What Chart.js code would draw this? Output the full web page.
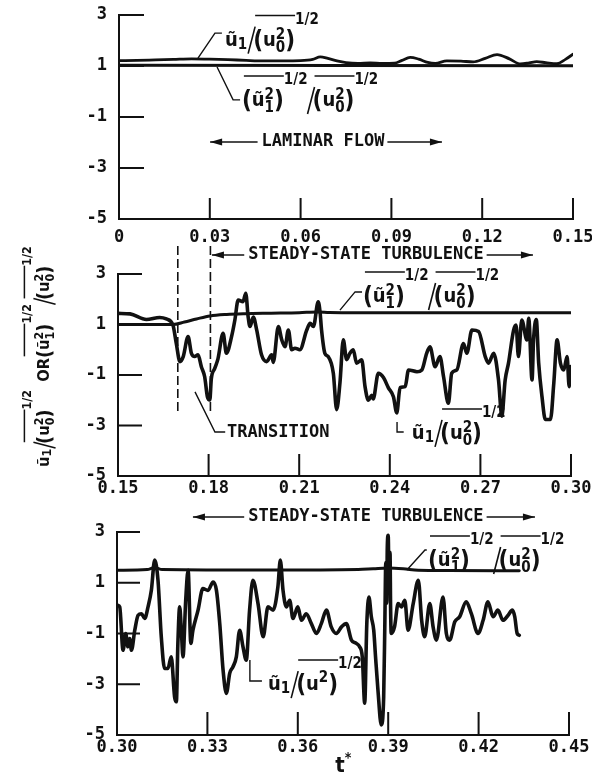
<!DOCTYPE html>
<html>
<head>
<meta charset="utf-8">
<script src="https://cdn.jsdelivr.net/npm/chart.js@4.4.1/dist/chart.umd.min.js"></script>
<style>
html, body { margin: 0; padding: 0; background: #fff; }
body { width: 592px; height: 774px; position: relative; overflow: hidden; }
canvas { position: absolute; left: 0; }
</style>
</head>
<body>
<canvas id="c1" width="592" height="250" style="top:0px"></canvas>
<canvas id="c2" width="592" height="262" style="top:240px"></canvas>
<canvas id="c3" width="592" height="274" style="top:500px"></canvas>
<script>
/* ─── axes ─── */
const Y_TICKS = [-5, -3, -1, 1, 3];
const Y_LABELS = ['-5', '-3', '-1', '1', '3'];
const X1_TICKS = [0, 0.03, 0.06, 0.09, 0.12, 0.15];
const X1_LABELS = ['0', '0.03', '0.06', '0.09', '0.12', '0.15'];
const X2_TICKS = [0.15, 0.18, 0.21, 0.24, 0.27, 0.30];
const X2_LABELS = ['0.15', '0.18', '0.21', '0.24', '0.27', '0.30'];
const X3_TICKS = [0.30, 0.33, 0.36, 0.39, 0.42, 0.45];
const X3_LABELS = ['0.30', '0.33', '0.36', '0.39', '0.42', '0.45'];

/* ─── panel 1 : laminar ─── */
const P1_U_T = [0, 0.006, 0.012, 0.018, 0.024, 0.03, 0.036, 0.042, 0.048, 0.054, 0.06, 0.064, 0.0665, 0.069, 0.072, 0.075, 0.079, 0.083, 0.087, 0.091, 0.0935, 0.0962, 0.099, 0.102, 0.1045, 0.1083, 0.113, 0.117, 0.121, 0.1249, 0.129, 0.1326, 0.1355, 0.138, 0.141, 0.1447, 0.1475, 0.15];
const P1_U_V = [1.21, 1.22, 1.24, 1.26, 1.28, 1.27, 1.25, 1.22, 1.20, 1.20, 1.21, 1.26, 1.36, 1.30, 1.20, 1.13, 1.10, 1.12, 1.10, 1.11, 1.22, 1.34, 1.27, 1.14, 1.10, 1.20, 1.19, 1.16, 1.30, 1.45, 1.28, 1.08, 1.12, 1.17, 1.13, 1.09, 1.26, 1.46];
const P1_R_T = [0, 0.15];
const P1_R_V = [1.03, 1.01];

/* ─── panel 2 : transition ─── */
const P2_U_T = [0.150, 0.154, 0.1594, 0.1638, 0.166, 0.1682, 0.1693, 0.1705, 0.1716, 0.1732, 0.1743, 0.1754, 0.1765, 0.1776, 0.1787, 0.1796, 0.1804, 0.1809, 0.182, 0.1831, 0.1848, 0.1859, 0.1876, 0.1887, 0.1898, 0.1914, 0.1923, 0.1931, 0.1937, 0.1948, 0.1959, 0.1975, 0.1992, 0.2009, 0.2014, 0.2031, 0.2042, 0.2053, 0.2064, 0.2075, 0.2086, 0.2102, 0.2125, 0.2136, 0.2147, 0.2163, 0.2169, 0.2174, 0.2185, 0.2196, 0.2213, 0.2224, 0.2235, 0.2246, 0.2257, 0.2268, 0.2279, 0.229, 0.2307, 0.2318, 0.2329, 0.234, 0.2345, 0.2362, 0.2379, 0.2395, 0.2412, 0.2423, 0.2434, 0.2451, 0.2462, 0.249, 0.2506, 0.2522, 0.2533, 0.255, 0.2566, 0.2578, 0.2594, 0.2605, 0.2622, 0.2644, 0.2655, 0.2672, 0.2694, 0.2716, 0.2727, 0.2744, 0.276, 0.2771, 0.2782, 0.2793, 0.281, 0.2818, 0.2826, 0.2837, 0.2854, 0.286, 0.2871, 0.2876, 0.2885, 0.2893, 0.2904, 0.2915, 0.2932, 0.2943, 0.2954, 0.2965, 0.2976, 0.2987, 0.2994, 0.2999];
const P2_U_V = [1.44, 1.42, 1.20, 1.28, 1.22, 0.98, 0.25, -0.47, -0.27, 0.52, -0.14, -0.27, -0.2, -0.67, -1.07, -1.86, -1.99, -1.15, -0.75, -0.36, 0.65, -0.14, 0.52, 1.18, 1.97, 1.9, 2.24, 1.3, 0.92, 1.3, 0.8, -0.19, -0.47, -0.2, -0.5, 0.92, 0.4, 0.12, 0.78, 0.0, 0.06, 0.0, 0.78, 1.05, 0.92, 1.9, 1.5, 0.78, -0.14, -0.27, -0.93, -2.37, -1.3, 0.39, -0.39, -0.14, 0.0, -0.53, -0.4, -1.46, -2.0, -1.8, -1.95, -0.93, -1.1, -1.5, -1.86, -2.5, -1.5, -1.46, -0.8, -0.87, -0.8, -0.14, 0.12, -0.67, -0.27, -1.07, -2.12, -0.93, -0.8, 0.25, -0.14, 0.78, 0.72, -0.27, -0.53, -0.14, -1.2, -2.63, -1.2, -0.53, 0.78, 0.98, -0.27, 1.18, 0.39, 1.25, -1.2, 0.39, 1.2, -0.53, -1.86, -2.76, -2.76, -1.33, 0.39, -0.53, -0.8, -0.27, -1.46, -0.67];
const P2_R_T = [0.15, 0.16, 0.1682, 0.172, 0.176, 0.1805, 0.186, 0.192, 0.20, 0.21, 0.216, 0.22, 0.23, 0.25, 0.30];
const P2_R_V = [1.0, 1.0, 1.0, 1.1, 1.22, 1.34, 1.40, 1.43, 1.45, 1.47, 1.5, 1.48, 1.47, 1.47, 1.47];

/* ─── panel 3 : steady turbulence ─── */
const P3_U_T = [0.3003, 0.3009, 0.302, 0.3029, 0.3036, 0.3042, 0.3048, 0.3059, 0.307, 0.3081, 0.3092, 0.3103, 0.3114, 0.3125, 0.3136, 0.3147, 0.3158, 0.3169, 0.318, 0.3191, 0.3197, 0.3202, 0.3208, 0.3214, 0.3219, 0.3228, 0.3236, 0.3245, 0.3252, 0.3269, 0.3285, 0.3302, 0.3319, 0.333, 0.3341, 0.3352, 0.3363, 0.3374, 0.3385, 0.3396, 0.3407, 0.3418, 0.3429, 0.344, 0.3451, 0.3468, 0.3485, 0.3501, 0.3518, 0.3534, 0.3542, 0.3551, 0.3562, 0.3573, 0.3584, 0.36, 0.3612, 0.3628, 0.3645, 0.3662, 0.3678, 0.3695, 0.3711, 0.3728, 0.3745, 0.3761, 0.3778, 0.3794, 0.3805, 0.3814, 0.3822, 0.3829, 0.3836, 0.3844, 0.3852, 0.3858, 0.3866, 0.3877, 0.3885, 0.3889, 0.3892, 0.3895, 0.3897, 0.39, 0.3903, 0.3906, 0.3908, 0.391, 0.3921, 0.3933, 0.3944, 0.3955, 0.3966, 0.3983, 0.4, 0.4011, 0.4021, 0.4038, 0.4049, 0.406, 0.4082, 0.4093, 0.4104, 0.4121, 0.4137, 0.4159, 0.4176, 0.4198, 0.4215, 0.4231, 0.4248, 0.4264, 0.4281, 0.4298, 0.4312, 0.432, 0.4328, 0.4335];
const P3_U_V = [0.11, 0.05, -1.66, -1.0, -1.52, -1.2, -1.66, -0.87, -0.28, -0.22, -0.41, 0.05, 0.7, 1.89, 1.1, -1.13, -2.38, -2.38, -1.92, -3.49, -3.69, -1.4, 0.05, -1.0, -1.92, 0.31, 1.49, -1.39, -0.87, -0.08, 0.77, 0.7, 1.03, 0.7, -0.61, -2.44, -3.36, -2.57, -2.31, -1.92, -0.87, -1.52, -2.05, -0.08, 1.1, 0.18, -1.13, 0.05, -0.08, 0.84, 1.89, 0.7, 0.05, 0.31, -0.41, 0.05, -0.48, -0.22, -0.61, -1.0, -0.61, -0.08, -0.74, -1.0, -0.74, -0.61, -1.26, -1.39, -1.52, -1.92, -3.75, -0.61, 0.44, -0.34, -0.87, -1.92, -3.23, -4.6, -3.49, -0.5, 1.8, 0.2, 2.4, 2.87, 0.8, 2.2, 0.0, -1.0, -0.74, 0.18, 0.05, 0.31, -0.87, 0.18, 1.1, -0.48, -1.13, 0.18, -0.74, -1.26, 0.44, -1.0, -1.26, -0.54, -0.34, 0.25, -0.22, -1.0, -0.48, 0.25, -0.34, -0.08, -0.48, -0.28, -0.08, -0.34, -1.0, -1.07];
const P3_R_T = [0.30, 0.31, 0.3125, 0.315, 0.35, 0.38, 0.385, 0.39, 0.395, 0.40, 0.41, 0.4335];
const P3_R_V = [1.49, 1.52, 1.6, 1.52, 1.5, 1.52, 1.55, 1.58, 1.55, 1.49, 1.48, 1.47];

/* ─── formulas (token strings) ─── */
const F_U_U0 = ['m:ũ', 'b:1', '/', '[', 'p:(', 'm:u', 's:2:0', 'p:)', ']', 'w:1/2'];
const F_U_U = ['m:ũ', 'b:1', '/', '[', 'p:(', 'm:u', 't:2', 'p:)', ']', 'w:1/2'];
const F_RMS = ['[', 'p:(', 'm:ũ', 's:2:1', 'p:)', ']', 'w:1/2', '/', '[', 'p:(', 'm:u', 's:2:0', 'p:)', ']', 'w:1/2'];
const F_TITLE = [...F_U_U0, 'g:10', 'm:OR', ...F_RMS];

const INK = '#111';
const LBL = 'bold 17px "DejaVu Sans Mono"';
const FF = '"DejaVu Sans Condensed", "DejaVu Sans"';

Chart.defaults.color = INK;
Chart.defaults.font.family = '"DejaVu Sans Mono"';
Chart.defaults.font.size = 17;
Chart.defaults.font.weight = 'bold';

const pts = (T, V) => T.map((t, i) => ({ x: t, y: V[i] }));

/* ─── drawing helpers ─── */
function seg(ctx, x0, y0, x1, y1, w = 1.4, dash = []) {
    ctx.save();
    ctx.strokeStyle = INK; ctx.lineWidth = w; ctx.setLineDash(dash);
    ctx.beginPath(); ctx.moveTo(x0, y0); ctx.lineTo(x1, y1); ctx.stroke();
    ctx.restore();
}

function poly(c, list, w = 1.4) {
    const ctx = c.ctx, xs = c.scales.x, ys = c.scales.y;
    ctx.save();
    ctx.strokeStyle = INK; ctx.lineWidth = w;
    ctx.beginPath();
    list.forEach(([t, v], i) => {
        const x = xs.getPixelForValue(t), y = ys.getPixelForValue(v);
        i ? ctx.lineTo(x, y) : ctx.moveTo(x, y);
    });
    ctx.stroke();
    ctx.restore();
}

function head(ctx, x, y, dir) {
    ctx.save();
    ctx.fillStyle = INK;
    ctx.beginPath();
    ctx.moveTo(x, y); ctx.lineTo(x - dir * 12, y - 3.5); ctx.lineTo(x - dir * 12, y + 3.5);
    ctx.closePath(); ctx.fill();
    ctx.restore();
}

/* 兩端箭頭 + 中間文字 */
function arrowText(c, text, ta, tb, tc, v) {
    const ctx = c.ctx, xs = c.scales.x, ys = c.scales.y;
    const xa = xs.getPixelForValue(ta), xb = xs.getPixelForValue(tb), xc = xs.getPixelForValue(tc);
    const y = ys.getPixelForValue(v);
    ctx.save();
    ctx.font = LBL; ctx.fillStyle = INK; ctx.textAlign = 'center'; ctx.textBaseline = 'middle';
    const w = ctx.measureText(text).width;
    ctx.fillText(text, xc, y);
    ctx.restore();
    seg(ctx, xa, y, xc - w / 2 - 4, y, 1.6);
    seg(ctx, xc + w / 2 + 3, y, xb, y, 1.6);
    head(ctx, xa, y, -1);
    head(ctx, xb, y, 1);
}

function formula(ctx, x, y, toks, k = 1) {
    let x0 = x;
    ctx.save();
    ctx.fillStyle = INK; ctx.textBaseline = 'alphabetic'; ctx.textAlign = 'left';
    const put = (s, size, dy) => {
        ctx.font = `bold ${size * k}px ${FF}`;
        ctx.fillText(s, x, y + dy * k);
        return ctx.measureText(s).width;
    };
    for (const tk of toks) {
        const [kind, a, b] = tk.split(':');
        if (kind === 'm') x += put(a, 20, 0);
        else if (kind === 'p') x += put(a, 24, 2);
        else if (kind === 'b') x += put(a, 15, 3) + k;
        else if (kind === 't') x += put(a, 15, -8);
        else if (kind === 's') { const w1 = put(a, 15, -7), w2 = put(b, 15, 6); x += Math.max(w1, w2); }
        else if (kind === 'w') x += put(a, 15, -22);
        else if (kind === '/') { seg(ctx, x, y + 8 * k, x + 7 * k, y - 19 * k, 1.6); x += 5 * k; }
        else if (kind === '[') x0 = x;
        else if (kind === ']') seg(ctx, x0 + 2 * k, y - 30 * k, x, y - 30 * k, 1.5);
        else if (kind === 'g') x += (+a) * k;
    }
    ctx.restore();
}

function formulaAt(c, t, v, toks) {
    formula(c.ctx, c.scales.x.getPixelForValue(t), c.scales.y.getPixelForValue(v), toks);
}

function textAt(c, s, t, v) {
    const ctx = c.ctx;
    ctx.save();
    ctx.font = LBL; ctx.fillStyle = INK; ctx.textAlign = 'left'; ctx.textBaseline = 'middle';
    ctx.fillText(s, c.scales.x.getPixelForValue(t), c.scales.y.getPixelForValue(v));
    ctx.restore();
}

/* 刻度線畫在圖內 */
function inwardTicks(c, xLen, yLen) {
    const ctx = c.ctx, xs = c.scales.x, ys = c.scales.y, { left, bottom } = c.chartArea;
    ctx.save();
    ctx.strokeStyle = INK; ctx.lineWidth = 2;
    ctx.beginPath();
    xs.ticks.slice(1).forEach(tk => {
        const x = xs.getPixelForValue(tk.value);
        ctx.moveTo(x, bottom); ctx.lineTo(x, bottom - xLen);
    });
    ys.ticks.slice(1).forEach(tk => {
        const y = ys.getPixelForValue(tk.value);
        ctx.moveTo(left, y); ctx.lineTo(left + yLen, y);
    });
    ctx.stroke();
    ctx.restore();
}

/* ─── panel factory ─── */
function mkPanel(id, o) {
    return new Chart(document.getElementById(id), {
        type: 'line',
        data: {
            datasets: [
                { data: pts(o.uT, o.uV), borderWidth: o.uW },
                { data: pts(o.rT, o.rV), borderWidth: 3 },
            ],
        },
        options: {
            responsive: false,
            animation: false,
            layout: { padding: { left: 0, right: o.right, top: o.top, bottom: 0 } },
            plugins: { legend: { display: false }, tooltip: { enabled: false } },
            elements: {
                point: { radius: 0 },
                line: { borderColor: INK, borderJoinStyle: 'round', borderCapStyle: 'round', fill: false, cubicInterpolationMode: 'monotone' },
            },
            scales: {
                x: {
                    type: 'linear', min: o.xTicks[0], max: o.xTicks[o.xTicks.length - 1],
                    afterBuildTicks: s => { s.ticks = o.xTicks.map(v => ({ value: v })); },
                    afterFit: s => { s.height = o.xH; s.paddingLeft = 0; s.paddingRight = 0; },
                    ticks: { autoSkip: false, maxRotation: 0, padding: o.xPad, color: INK, callback: (v, i) => o.xLabels[i] },
                    grid: { drawOnChartArea: false, drawTicks: false },
                    border: { color: INK, width: 2 },
                },
                y: {
                    type: 'linear', min: -5, max: 3,
                    afterBuildTicks: s => { s.ticks = Y_TICKS.map(v => ({ value: v })); },
                    afterFit: s => { s.width = o.left; s.paddingTop = 0; s.paddingBottom = 0; },
                    ticks: { padding: 12, color: INK, callback: (v, i) => Y_LABELS[i] },
                    grid: { drawOnChartArea: false, drawTicks: false },
                    border: { color: INK, width: 2 },
                },
            },
        },
        plugins: [{
            id: 'deco_' + id,
            afterDraw: c => { inwardTicks(c, o.xLen, o.yLen); o.deco(c); },
        }],
    });
}

mkPanel('c1', {
    uT: P1_U_T, uV: P1_U_V, rT: P1_R_T, rV: P1_R_V, uW: 2.8,
    xTicks: X1_TICKS, xLabels: X1_LABELS,
    left: 119, right: 19, top: 15, xH: 31, xPad: 8, xLen: 21, yLen: 25,
    deco: c => {
        poly(c, [[0.0261, 1.31], [0.0317, 2.29], [0.034, 2.29]]);
        formulaAt(c, 0.0350, 1.80, F_U_U0);
        poly(c, [[0.0324, 0.96], [0.0377, -0.33], [0.0400, -0.33]]);
        formulaAt(c, 0.0406, -0.57, F_RMS);
        arrowText(c, 'LAMINAR FLOW', 0.0301, 0.1067, 0.0674, -1.98);
    },
});

mkPanel('c2', {
    uT: P2_U_T, uV: P2_U_V, rT: P2_R_T, rV: P2_R_V, uW: 3.6,
    xTicks: X2_TICKS, xLabels: X2_LABELS,
    left: 118, right: 21, top: 34, xH: 26, xPad: 2, xLen: 22, yLen: 24,
    deco: c => {
        const xs = c.scales.x, ys = c.scales.y;
        [0.1698, 0.1806].forEach(t => {
            const x = xs.getPixelForValue(t);
            seg(c.ctx, x, ys.getPixelForValue(4.11), x, ys.getPixelForValue(-2.47), 1.6, [9, 4]);
        });
        arrowText(c, 'STEADY-STATE TURBULENCE', 0.1811, 0.2874, 0.2321, 3.75);
        poly(c, [[0.2235, 1.57], [0.2285, 2.29], [0.2308, 2.29]]);
        formulaAt(c, 0.2311, 1.89, F_RMS);
        poly(c, [[0.1755, -1.67], [0.1821, -3.26], [0.1855, -3.26]]);
        textAt(c, 'TRANSITION', 0.1861, -3.28);
        poly(c, [[0.2424, -2.86], [0.2424, -3.26], [0.2446, -3.26]]);
        formulaAt(c, 0.2473, -3.53, F_U_U0);
        /* rotated y title */
        const ctx = c.ctx;
        ctx.save();
        ctx.translate(49, 227);
        ctx.rotate(-Math.PI / 2);
        formula(ctx, 0, 0, F_TITLE, 0.82);
        ctx.restore();
    },
});

mkPanel('c3', {
    uT: P3_U_T, uV: P3_U_V, rT: P3_R_T, rV: P3_R_V, uW: 3.6,
    xTicks: X3_TICKS, xLabels: X3_LABELS,
    left: 117, right: 23, top: 32, xH: 39, xPad: 2, xLen: 23, yLen: 23,
    deco: c => {
        arrowText(c, 'STEADY-STATE TURBULENCE', 0.3252, 0.4387, 0.3826, 3.59);
        poly(c, [[0.3962, 1.5], [0.4022, 2.29], [0.4028, 2.29]]);
        formulaAt(c, 0.4032, 1.66, F_RMS);
        poly(c, [[0.3441, -2.04], [0.3441, -2.87], [0.3481, -2.87]]);
        formulaAt(c, 0.3501, -3.23, F_U_U);
        /* t* axis title */
        const ctx = c.ctx, x = c.scales.x.getPixelForValue(0.375);
        ctx.save();
        ctx.fillStyle = INK; ctx.textBaseline = 'alphabetic'; ctx.textAlign = 'center';
        ctx.font = `bold 22px ${FF}`;
        ctx.fillText('t', x - 3, 272);
        ctx.font = `bold 14px ${FF}`;
        ctx.fillText('*', x + 5, 262);
        ctx.restore();
    },
});
</script>
</body>
</html>
